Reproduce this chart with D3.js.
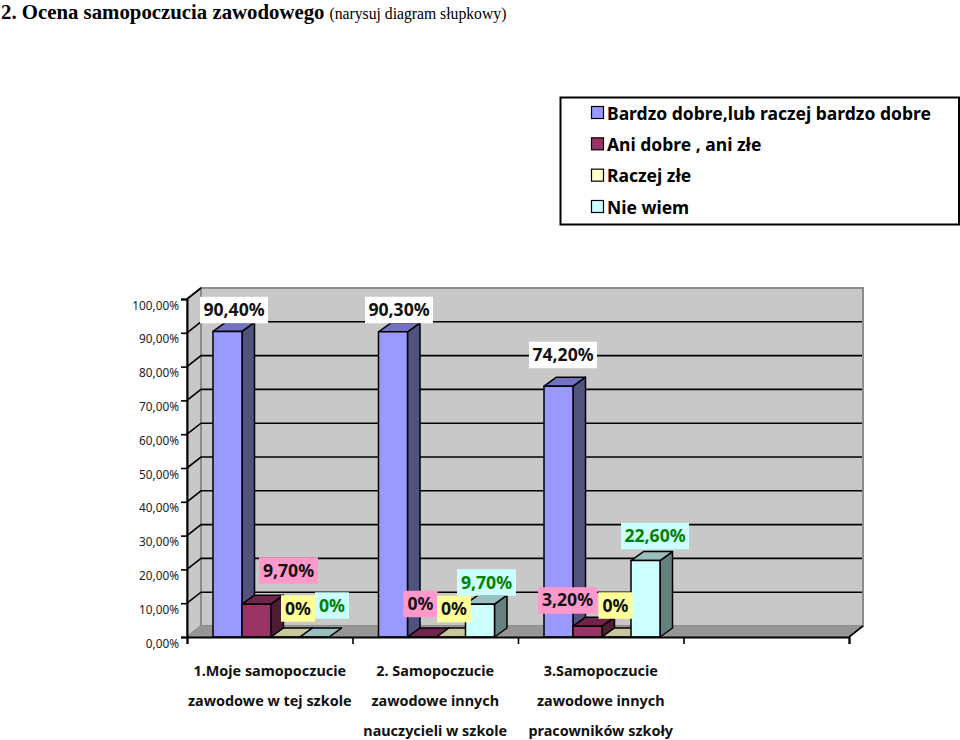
<!DOCTYPE html>
<html><head><meta charset="utf-8">
<script src="https://cdn.jsdelivr.net/npm/d3@7"></script>
<style>html,body{margin:0;padding:0;background:#fff}svg{display:block}</style>
</head><body><svg id="c" width="960" height="740"></svg>
<script>
const seriesNames = ["Bardzo dobre,lub raczej bardzo dobre","Ani dobre , ani złe","Raczej złe","Nie wiem"];
const groups = ["g1","g2","g3","g4"];
const categoryLines = [
  ["1.Moje samopoczucie","zawodowe w tej szkole"],
  ["2. Samopoczucie","zawodowe innych","nauczycieli w szkole"],
  ["3.Samopoczucie","zawodowe innych","pracowników szkoły"],
  []
];
const valuesBardzo = [90.4,90.3,74.2];
const valuesAni = [9.7,0,3.2];
const valuesRaczej = [0,0,0];
const valuesNie = [0,9.7,22.6];
const labelsBardzo = ["90,40%","90,30%","74,20%"];
const labelsAni = ["9,70%","0%","3,20%"];
const labelsRaczej = ["0%","0%","0%"];
const labelsNie = ["0%","9,70%","22,60%"];
const yTicks = [0,10,20,30,40,50,60,70,80,90,100];

const seriesValues=[valuesBardzo,valuesAni,valuesRaczej,valuesNie];
const seriesLabels=[labelsBardzo,labelsAni,labelsRaczej,labelsNie];
const fronts=["#9999ff","#993366","#ffffcc","#ccffff"];
const sides=["#52527f","#4f1c36","#808066","#668080"];
const tops=["#7272c0","#70244a","#c8c89c","#99bfbf"];
const labelFill=["#ffffff","#ff99cc","#ffff99","#ccffff"];
const labelText=["#111","#111","#111","#008000"];
// label centre offsets from the top-centre of the bar's front face
const labelOffsets=[
 [[6.5,-21.4],[6,-21.8],[4.5,-31.2]],
 [[32,-33.7],[-1.5,-33],[-20,-25.7]],
 [[12.5,-28.5],[3,-28],[-1,-31.5]],
 [[17.5,-31.5],[6.5,-21.7],[9.5,-24.6]]
];

const svg=d3.select("#c");
const bold="'Noto Sans',sans-serif";

// title
const t=svg.append("text").attr("x",1).attr("y",18.6).attr("font-family","'Liberation Serif',serif").attr("fill","#000");
t.append("tspan").attr("font-size",20.8).attr("font-weight","bold").text("2. Ocena samopoczucia zawodowego");
t.append("tspan").attr("font-size",15.7).attr("dx",5).text("(narysuj diagram słupkowy)");

// legend
svg.append("rect").attr("x",560.5).attr("y",97.5).attr("width",398.5).attr("height",127).attr("fill","#fff").attr("stroke","#000").attr("stroke-width",2);
const legY=d3.scalePoint().domain(seriesNames).range([113,207]);
const leg=svg.selectAll(".leg").data(seriesNames).join("g").attr("transform",d=>`translate(0,${legY(d)})`);
leg.append("rect").attr("x",591.5).attr("y",-6.5).attr("width",12).attr("height",12).attr("fill",(d,i)=>fronts[i]).attr("stroke","#000").attr("stroke-width",1.2);
leg.append("text").attr("x",607).attr("y",6.5).attr("font-family",bold).attr("font-weight","bold").attr("font-size",17.5).attr("fill","#000").text(d=>d);

// scales
const y=d3.scaleLinear().domain([0,100]).range([637,299]);
const x0=d3.scaleBand().domain(groups).range([187,849]);
const xEdge=d3.scaleLinear().domain([0,4]).range([187,849]);
const x1=d3.scaleBand().domain(d3.range(4)).range([26,142]);
const DX=14,DY=-11,BX=12.5,BY=-9;
const pts=a=>a.map(p=>p.join(",")).join(" ");

// walls
const y0=y(0),yT=y(100),xL=x0.range()[0],xR=x0.range()[1];
svg.append("polygon").attr("points",pts([[xL+DX,yT+DY],[xR+DX,yT+DY],[xR+DX,y0+DY],[xL+DX,y0+DY]])).attr("fill","#c8c8c8").attr("stroke","#8c8c8c").attr("stroke-width",2);
svg.append("polygon").attr("points",pts([[xL,yT],[xL+DX,yT+DY],[xL+DX,y0+DY],[xL,y0]])).attr("fill","#c8c8c8").attr("stroke","#8c8c8c").attr("stroke-width",2);
svg.append("polygon").attr("points",pts([[xL,y0],[xL+DX,y0+DY],[xR+DX,y0+DY],[xR,y0]])).attr("fill","#969696");

// gridlines
yTicks.filter(v=>v>0&&v<100).forEach(v=>{
  svg.append("polyline").attr("points",pts([[xL,y(v)],[xL+DX,y(v)+DY],[xR+DX-1,y(v)+DY]])).attr("fill","none").attr("stroke","#000").attr("stroke-width",1.6);
});
svg.append("line").attr("x1",xL).attr("y1",yT).attr("x2",xL+DX).attr("y2",yT+DY).attr("stroke","#000").attr("stroke-width",1.6);
svg.append("line").attr("x1",xR).attr("y1",y0).attr("x2",xR+DX).attr("y2",y0+DY).attr("stroke","#000").attr("stroke-width",1.6);

// bars
const barW=x1.bandwidth();
const drawn=[];
[0,1,2].forEach(g=>{
  seriesValues.forEach((vals,s)=>{
    const xa=x0(groups[g])+x1(s), xb=xa+barW, yb=y(0), ya=y(vals[g]);
    const o=svg.append("g").attr("stroke","#000").attr("stroke-width",1.5).attr("stroke-linejoin","round");
    o.append("polygon").attr("points",pts([[xb,ya],[xb+BX,ya+BY],[xb+BX,yb+BY],[xb,yb]])).attr("fill",sides[s]);
    o.append("polygon").attr("points",pts([[xa,ya],[xa+BX,ya+BY],[xb+BX,ya+BY],[xb,ya]])).attr("fill",tops[s]);
    if(vals[g]>0) o.append("rect").attr("x",xa).attr("y",ya).attr("width",barW).attr("height",yb-ya).attr("fill",fronts[s]);
    drawn.push({g,s,cx:xa+barW/2,ya});
  });
});

// axes
const yAxis=d3.axisLeft(y).tickValues(yTicks).tickSize(6).tickPadding(2).tickFormat(v=>v.toFixed(2).replace(".",",")+"%");
const ya=svg.append("g").attr("transform",`translate(${xL},0)`).call(yAxis);
ya.selectAll("text").attr("font-family","'Noto Sans',sans-serif").attr("font-size",11.8).attr("fill","#222").attr("dy","0.85em").attr("dx","0");
ya.selectAll("line").attr("stroke","#000").attr("stroke-width",1.6);
ya.select(".domain").attr("stroke","#000").attr("stroke-width",2);
const xa=d3.axisBottom(xEdge).tickValues([0,1,2,3,4]).tickSize(7).tickFormat("");
const xg=svg.append("g").attr("transform",`translate(0,${y0})`).call(xa);
xg.selectAll("line").attr("stroke","#000").attr("stroke-width",1.6);
xg.select(".domain").attr("stroke","#000").attr("stroke-width",2);

// category labels
categoryLines.forEach((lines,i)=>{
  lines.forEach((l,j)=>{
    svg.append("text").attr("x",x0(groups[i])+x0.bandwidth()/2).attr("y",676+j*30).attr("text-anchor","middle")
      .attr("font-family",bold).attr("font-weight","bold").attr("font-size",14.4).attr("fill","#111").text(l);
  });
});

// data labels
drawn.forEach(d=>{
  const txt=seriesLabels[d.s][d.g], off=labelOffsets[d.s][d.g];
  const w=txt.length>=6?68:txt.length===5?59:34, h=26.5;
  const cx=d.cx+off[0], cy=d.ya+off[1];
  svg.append("rect").attr("x",cx-w/2).attr("y",cy-h/2).attr("width",w).attr("height",h).attr("fill",labelFill[d.s]);
  svg.append("text").attr("x",cx).attr("y",cy+6).attr("text-anchor","middle").attr("font-family",bold).attr("font-weight","bold").attr("font-size",17.6).attr("fill",labelText[d.s]).text(txt);
});
</script></body></html>
